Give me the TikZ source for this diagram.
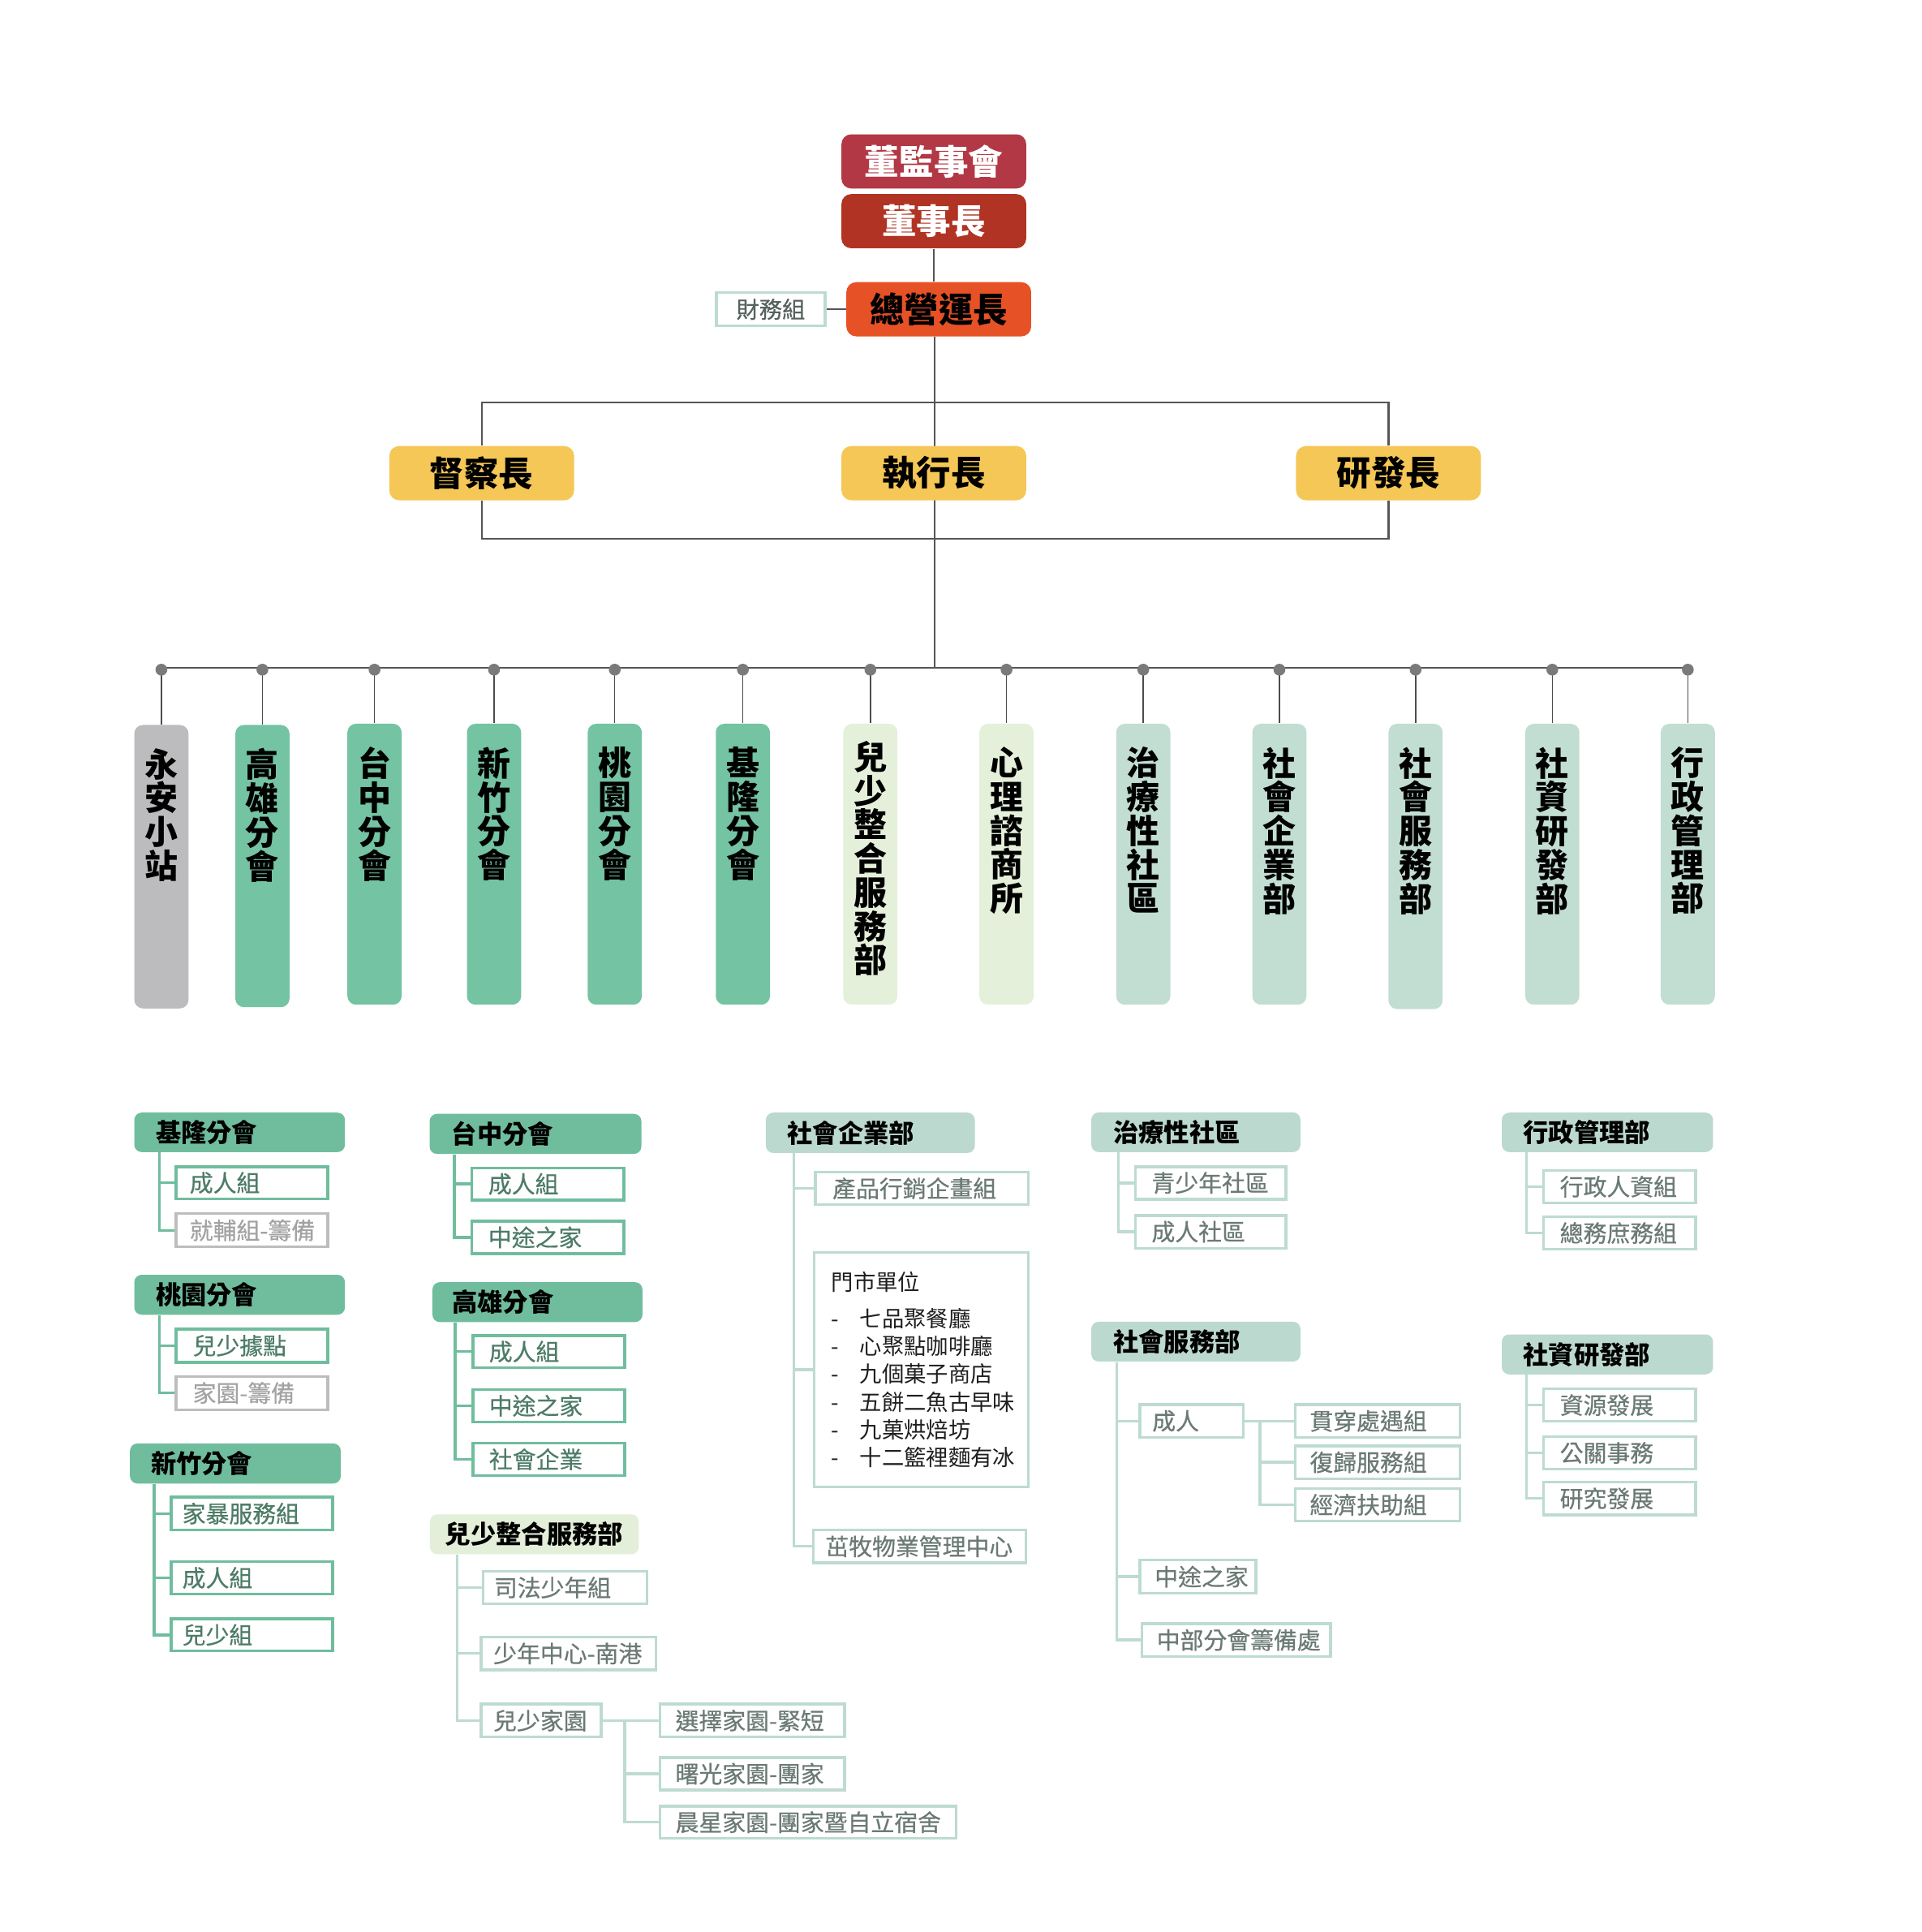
\documentclass[tikz,border=0pt]{standalone}
\usepackage{fontspec}
\setmainfont{Noto Sans CJK TC}
\newfontfamily\medfont[FakeBold=0.5]{Noto Sans CJK TC}
\usetikzlibrary{backgrounds}
\definecolor{cBoard}{HTML}{B23845}
\definecolor{cChair}{HTML}{B13323}
\definecolor{cCOO}{HTML}{E65226}
\definecolor{cYel}{HTML}{F5C756}
\definecolor{cGrayV}{HTML}{BCBCBE}
\definecolor{cGreenV}{HTML}{74C3A3}
\definecolor{cLightV}{HTML}{E4F0DA}
\definecolor{cTealV}{HTML}{C2DED3}
\definecolor{cGH}{HTML}{70BD9E}
\definecolor{cTH}{HTML}{BCD9CF}
\definecolor{cLH}{HTML}{E3EFD9}
\definecolor{cGline}{HTML}{70BD9E}
\definecolor{cTline}{HTML}{BDDBD1}
\definecolor{cGrayLine}{HTML}{BDBDBD}
\definecolor{cGtext}{HTML}{4D7C67}
\definecolor{cTtext}{HTML}{6B7A74}
\definecolor{cGraytext}{HTML}{A3A3A3}
\definecolor{cDark}{HTML}{555555}
\definecolor{cDot}{HTML}{7A7A7A}
\newcommand{\bx}[8]{%
  \pgfmathsetmacro\bxw{(#5-#3)*0.5}%
  \pgfmathsetmacro\bxh{(#6-#4)*0.5}%
  \pgfmathsetmacro\bxt{(#5-#3-2*#7)*0.5}%
  \pgfmathsetmacro\bxp{#7*0.5}%
  \pgfmathsetmacro\bxcx{(#3+#5)/2}%
  \pgfmathsetmacro\bxcy{(#4+#6)/2}%
  \node[#2, minimum width=\bxw pt, minimum height=\bxh pt, text width=\bxt pt,
        inner xsep=\bxp pt, inner ysep=0pt, align=left] (#1) at (\bxcx,\bxcy) {\mbox{#8}};}
\newcommand{\vb}[7]{%
  \pgfmathsetmacro\vbh{(#4-#3)*0.5}%
  \node[vertbox, fill=#5, anchor=north] (#1) at (#2,#3)
    {\parbox[b][\vbh pt][t]{20pt}{\centering\vspace*{#6pt}#7}};}
\newcommand{\trunk}[4]{\foreach \c in {#4}{\draw[#1] (#2.south west) ++(#3,0) |- (\c.west);}}
\begin{document}
\begin{tikzpicture}[x=0.5pt,y=-0.5pt,
  topbox/.style={rounded corners=4pt, minimum width=75pt, minimum height=22pt, inner sep=0pt,
     font=\bfseries\fontsize{14}{16}\selectfont},
  vertbox/.style={rounded corners=3.5pt, minimum width=22pt, inner sep=0pt,
     font=\bfseries\fontsize{13.5}{13.75}\selectfont},
  gline/.style={draw=cDark, line width=0.6pt},
  dropline/.style={draw=cDark!90!black, line width=0.5pt},
  subG/.style={draw=cGline, line width=1.1pt, fill=white, text=cGtext, font=\medfont\fontsize{9.5}{11}\selectfont},
  subGray/.style={draw=cGrayLine, line width=1.1pt, fill=white, text=cGraytext, font=\medfont\fontsize{9.5}{11}\selectfont},
  subT/.style={draw=cTline, line width=1.1pt, fill=white, text=cTtext, font=\medfont\fontsize{9.5}{11}\selectfont},
  hdrG/.style={fill=cGH, rounded corners=3pt, text=black, font=\bfseries\fontsize{10.3}{12}\selectfont},
  hdrT/.style={fill=cTH, rounded corners=3pt, text=black, font=\bfseries\fontsize{10.3}{12}\selectfont},
  hdrL/.style={fill=cLH, rounded corners=3pt, text=black, font=\bfseries\fontsize{10.3}{12}\selectfont},
  brG/.style={draw=cGline, line width=1.1pt},
  brT/.style={draw=cTline, line width=1.1pt},
  brGray/.style={draw=cGrayLine, line width=1.1pt}]
\useasboundingbox (0,0) rectangle (1560,1568);

% ---------- top ----------
\node[topbox, fill=cBoard, text=white] (board) at (758,131) {董監事會};
\node[topbox, fill=cChair, text=white] (chair) at (758,179.5) {董事長};
\node[topbox, fill=cCOO, text=black] (coo) at (762,251) {總營運長};
\node[draw=cTline, line width=1.2pt, fill=white, text=cTtext!80!black, minimum width=44pt,
      minimum height=13.5pt, inner sep=0pt, font=\medfont\fontsize{9.3}{11}\selectfont] (fin) at (625.6,251) {財務組};
\node[topbox, fill=cYel, text=black] (sup) at (391,384) {督察長};
\node[topbox, fill=cYel, text=black] (ceo) at (758,384) {執行長};
\node[topbox, fill=cYel, text=black] (rnd) at (1127,384) {研發長};
\coordinate (busL) at (131,542);
\coordinate (busR) at (1370,542);
\coordinate (busC) at (758.6,542);

% ---------- vertical units ----------
\vb{vya}{131}{588}{818}{cGrayV}{9.5}{永\\安\\小\\站}
\vb{vkh}{213}{588}{817}{cGreenV}{9.5}{高\\雄\\分\\會}
\vb{vtc}{304}{587}{815}{cGreenV}{9.5}{台\\中\\分\\會}
\vb{vhc}{401}{587}{815}{cGreenV}{9.5}{新\\竹\\分\\會}
\vb{vty}{499}{587}{815}{cGreenV}{9.5}{桃\\園\\分\\會}
\vb{vkl}{603}{587}{815}{cGreenV}{9.5}{基\\隆\\分\\會}
\vb{vyc}{706.5}{587}{815}{cLightV}{7}{兒\\少\\整\\合\\服\\務\\部}
\vb{vpsy}{817}{587}{815}{cLightV}{9.5}{心\\理\\諮\\商\\所}
\vb{vtcc}{928}{587}{815}{cTealV}{9.5}{治\\療\\性\\社\\區}
\vb{vse}{1038.5}{587}{815}{cTealV}{9.5}{社\\會\\企\\業\\部}
\vb{vss}{1149}{587}{818.5}{cTealV}{9.5}{社\\會\\服\\務\\部}
\vb{vrd}{1260}{587}{815}{cTealV}{9.5}{社\\資\\研\\發\\部}
\vb{vadm}{1370}{587}{815}{cTealV}{9.5}{行\\政\\管\\理\\部}

% ---------- bottom: green branches ----------
\bx{hkl}{hdrG}{109}{903}{280}{935}{17.5}{基隆分會}
\bx{kl1}{subG}{143}{947}{266}{973}{11}{成人組}
\bx{kl2}{subGray}{143}{985}{266}{1012}{11}{就輔組-籌備}
\bx{hty}{hdrG}{109}{1034.6}{280}{1067}{17.5}{桃園分會}
\bx{ty1}{subG}{143}{1078.6}{266}{1105.6}{13.5}{兒少據點}
\bx{ty2}{subGray}{143}{1117}{266}{1144}{13.5}{家園-籌備}
\bx{hhc}{hdrG}{105.5}{1171.5}{276.6}{1204}{17}{新竹分會}
\bx{hc1}{subG}{139}{1215}{270}{1241.7}{9}{家暴服務組}
\bx{hc2}{subG}{139}{1267.4}{270}{1293.8}{9}{成人組}
\bx{hc3}{subG}{139}{1313.7}{270}{1340}{9}{兒少組}
\bx{htc}{hdrG}{348.7}{904}{520.6}{936.5}{18}{台中分會}
\bx{tc1}{subG}{383}{947.8}{506.4}{974}{13.4}{成人組}
\bx{tc2}{subG}{383}{991}{506.4}{1017.4}{13.4}{中途之家}
\bx{hkh}{hdrG}{351}{1040.6}{521.5}{1073}{16}{高雄分會}
\bx{kh1}{subG}{384}{1084}{507}{1110}{13}{成人組}
\bx{kh2}{subG}{384}{1127.7}{507}{1154}{13}{中途之家}
\bx{kh3}{subG}{384}{1171}{507}{1197.7}{13}{社會企業}

% ---------- 兒少整合服務部 ----------
\bx{hyc}{hdrL}{349}{1229}{518.5}{1261.4}{12.5}{兒少整合服務部}
\bx{yc1}{subT}{392}{1275.3}{525.4}{1301.6}{9}{司法少年組}
\bx{yc2}{subT}{390.5}{1328.6}{532.4}{1355.3}{10}{少年中心-南港}
\bx{yc3}{subT}{390.5}{1383}{488}{1409.8}{10}{兒少家園}
\bx{jh1}{subT}{535.6}{1383}{685.5}{1409.8}{12.7}{選擇家園-緊短}
\bx{jh2}{subT}{535.6}{1426.4}{685.5}{1452.7}{12.7}{曙光家園-團家}
\bx{jh3}{subT}{535.6}{1465.8}{776}{1492}{12.7}{晨星家園-團家暨自立宿舍}
\coordinate (jhx) at (507,1396);

% ---------- 社會企業部 ----------
\bx{hse}{hdrT}{621.6}{903}{791.3}{935.7}{17.6}{社會企業部}
\bx{se1}{subT}{661.8}{951.3}{834.8}{977.8}{14}{產品行銷企畫組}
\node[draw=cTline, line width=1.1pt, fill=white, text=black!88, minimum width=86.9pt,
      minimum height=95.25pt, text width=72.9pt, inner xsep=7pt, inner ysep=0pt, align=left,
      font=\fontsize{9}{11.3}\selectfont] (se2) at (747.9,1111.65)
  {門市單位\\[3.5pt]
   \makebox[11.5pt][l]{-}七品聚餐廳\\
   \makebox[11.5pt][l]{-}心聚點咖啡廳\\
   \makebox[11.5pt][l]{-}九個菓子商店\\
   \makebox[11.5pt][l]{-}五餅二魚古早味\\
   \makebox[11.5pt][l]{-}九菓烘焙坊\\
   \makebox[11.5pt][l]{-}十二籃裡麵有冰};
\bx{se3}{subT}{660}{1241.7}{832.6}{1268.4}{10}{茁牧物業管理中心}

% ---------- 治療性社區 ----------
\bx{htcc}{hdrT}{885.8}{902.8}{1055.6}{935}{18}{治療性社區}
\bx{tcc1}{subT}{921.8}{946.9}{1043.7}{973.3}{13}{青少年社區}
\bx{tcc2}{subT}{921.8}{986.4}{1043.7}{1013}{13}{成人社區}

% ---------- 社會服務部 ----------
\bx{hss}{hdrT}{885.8}{1072.7}{1055.6}{1105}{18}{社會服務部}
\bx{ss1}{subT}{925.3}{1140}{1009.2}{1166.5}{10}{成人}
\bx{ss2}{subT}{925.3}{1266}{1019.5}{1293.2}{12}{中途之家}
\bx{ss3}{subT}{926.9}{1317.8}{1080}{1344.2}{12}{中部分會籌備處}
\bx{sa1}{subT}{1051.2}{1140}{1185}{1166.5}{12}{貫穿處遇組}
\bx{sa2}{subT}{1051.2}{1173.5}{1185}{1200}{12}{復歸服務組}
\bx{sa3}{subT}{1051.2}{1208}{1185}{1234.4}{12}{經濟扶助組}
\coordinate (sax) at (1022.7,1153.25);

% ---------- 行政管理部 / 社資研發部 ----------
\bx{hadm}{hdrT}{1219}{903}{1390.5}{935}{17.4}{行政管理部}
\bx{adm1}{subT}{1252.7}{949.8}{1376.3}{976.3}{13.5}{行政人資組}
\bx{adm2}{subT}{1252.7}{987.5}{1376.3}{1013.9}{13.5}{總務庶務組}
\bx{hrd}{hdrT}{1219}{1083}{1390.5}{1115.4}{17.4}{社資研發部}
\bx{rd1}{subT}{1252.7}{1127.1}{1376.3}{1153.6}{13.5}{資源發展}
\bx{rd2}{subT}{1252.7}{1165.9}{1376.3}{1192.4}{13.5}{公關事務}
\bx{rd3}{subT}{1252.7}{1203}{1376.3}{1229.4}{13.5}{研究發展}

% ---------- connectors (behind) ----------
\begin{scope}[on background layer]
\fill[white] (0,0) rectangle (1560,1568);
\draw[gline] (chair.south) -- (chair.south |- coo.north);
\draw[gline] (fin.east) -- (coo.west);
\draw[gline] (coo.south -| busC) -- (busC);
\draw[gline, line width=0.8pt] (sup.north) -- ++(0,-35) -| (rnd.north);
\draw[gline, line width=0.8pt] (sup.south) -- ++(0,31) -| (rnd.south);
\draw[gline, line width=0.8pt] (busL) -- (busR);
\foreach \n in {vya,vkh,vtc,vhc,vty,vkl,vyc,vpsy,vtcc,vse,vss,vrd,vadm}
  {\draw[dropline] (\n.north) -- (\n.north |- busL);}
\trunk{brG}{hkl}{20.6}{kl1,kl2}
\trunk{brG}{hty}{20.6}{ty1,ty2}
\trunk{brG}{hhc}{20}{hc1,hc2,hc3}
\trunk{brG}{htc}{20.5}{tc1,tc2}
\trunk{brG}{hkh}{18.8}{kh1,kh2,kh3}
\trunk{brT}{hyc}{22.3}{yc1,yc2,yc3}
\draw[brT] (yc3.east) -- (jh1.west);
\draw[brT] (yc3.east -| jhx) |- (jh2.west);
\draw[brT] (yc3.east -| jhx) |- (jh3.west);
\trunk{brT}{hse}{23.1}{se1,se2,se3}
\trunk{brT}{htcc}{22.6}{tcc1,tcc2}
\trunk{brT}{hss}{21.2}{ss1,ss2,ss3}
\draw[brT] (ss1.east) -- (sa1.west);
\draw[brT] (ss1.east -| sax) |- (sa2.west);
\draw[brT] (ss1.east -| sax) |- (sa3.west);
\trunk{brT}{hadm}{20.3}{adm1,adm2}
\trunk{brT}{hrd}{20.3}{rd1,rd2,rd3}
\end{scope}
\foreach \n in {vya,vkh,vtc,vhc,vty,vkl,vyc,vpsy,vtcc,vse,vss,vrd,vadm}
  {\fill[cDot] (\n.north |- busL) ++(0,1.5) circle (2.4pt);}
\end{tikzpicture}
\end{document}
